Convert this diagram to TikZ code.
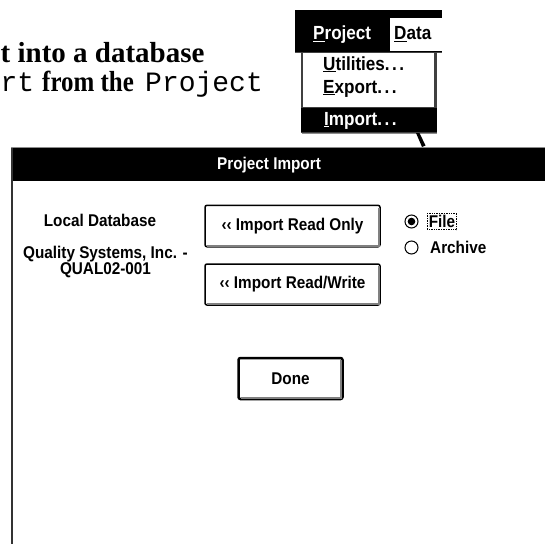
\documentclass[tikz,border=0pt]{standalone}
\usepackage{fontspec}
\setmainfont{Liberation Serif}
\setsansfont{Liberation Sans}
\setmonofont{Liberation Mono}
\newfontfamily\winfont[FakeStretch=0.9]{Liberation Sans}
\newfontfamily\narrowserif[FakeStretch=0.86]{Liberation Serif}
\newcommand\menudots{.\kern2.5pt.\kern2.5pt.}
\usetikzlibrary{calc}

\begin{document}
\begin{tikzpicture}[x=1pt,y=-1pt,
  dlgtext/.style={font=\winfont\bfseries\fontsize{17}{15}\selectfont, inner sep=0pt},
  menutext/.style={font=\winfont\bfseries\fontsize{19}{20}\selectfont, inner sep=0pt, anchor=base west},
  prose/.style={font=\bfseries\fontsize{29}{34}\selectfont, inner sep=0pt},
  code/.style={font=\ttfamily\fontsize{28}{34}\selectfont, inner sep=0pt},
  winbtn/.style={draw=black, line width=1.5pt, rounded corners=2pt, fill=white,
    inner sep=0pt, font=\winfont\bfseries\fontsize{17}{17}\selectfont},
  btnshade/.style={draw=black!50, line width=2pt},
  radio/.style={circle, draw=black, line width=1pt, fill=white, minimum size=13pt, inner sep=0pt}
]
\useasboundingbox (0,0) rectangle (545,544);
\fill[white] (0,0) rectangle (545,544);
\clip (0,0) rectangle (545,544);

% running text above the screenshots
\node[prose, anchor=base west] (line1) at (0.5,62) {t into a database};
\node[code, anchor=base west] (line2a) at (0.5,91) {rt};
\node[prose, font=\narrowserif\bfseries\fontsize{29}{34}\selectfont, anchor=base west] (line2b) at (42,91) {from the};
\node[code, anchor=base west] (line2c) at (145,91) {Project};

% menu bar with the Project menu pulled down
\fill[black] (295,9.5) rectangle (442,52);
\fill[white] (390,18) rectangle (442,51);
\draw[black!70, line width=1pt] (295,52) -- (442,52);
\node[menutext, text=white] (mproj) at (313,39.5) {\underline{P}roject};
\begin{scope}
  \clip (390,18) rectangle (441.5,51);
  \node[menutext] (mdata) at (394,39.5) {\underline{D}ata};
\end{scope}

% drop-down list
\fill[black!75] (301,52) rectangle (437,133);
\fill[white] (302.5,53) rectangle (433.5,107);
\fill[black] (301,108) rectangle (436.5,131.5);
\draw[black!45, line width=1pt] (302,133) -- (437,133);
\node[menutext] (mutil) at (323,70) {\underline{U}tilities\menudots};
\node[menutext] (mexp) at (323,93) {\underline{E}xport\menudots};
\node[menutext, text=white] (mimp) at (324,125) {\underline{I}mport\menudots};

% mouse pointer tail
\fill[black] (416,133) -- (419.5,133) -- (425.5,145.5) -- (422,147) -- cycle;

% dialog window
\fill[white] (12,148) rectangle (545,544);
\fill[black] (12,148) rectangle (545,180.5);
\draw[black!45, line width=0.8pt] (11,147.6) -- (545,147.6);
\draw[black!80, line width=2pt] (12,148) -- (12,544);
\node[dlgtext, text=white] (title) at (269,165) {Project Import};

\node[dlgtext] (local) at (100,220) {Local Database};
\node[dlgtext, align=center, font=\winfont\bfseries\fontsize{17}{14.5}\selectfont] (qsi) at (105.5,262) {Quality Systems, Inc. -\\QUAL02-001};

% push buttons
\node[winbtn, minimum width=175pt, minimum height=41.5pt] (bro) at (292.5,226) {‹‹ Import Read Only};
\draw[btnshade] ($(bro.south west)+(3,-2)$) -- ($(bro.south east)+(-2,-2)$) -- ($(bro.north east)+(-2,3)$);
\node[winbtn, minimum width=175pt, minimum height=41pt] (brw) at (292.5,284.5) {‹‹ Import Read/Write};
\draw[btnshade] ($(brw.south west)+(3,-2)$) -- ($(brw.south east)+(-2,-2)$) -- ($(brw.north east)+(-2,3)$);
\node[winbtn, line width=2.5pt, minimum width=104pt, minimum height=41pt] (done) at (290.5,378.5) {Done};
\draw[btnshade] ($(done.south west)+(3.5,-2.5)$) -- ($(done.south east)+(-2.5,-2.5)$) -- ($(done.north east)+(-2.5,3.5)$);

% radio buttons
\node[radio] (rfile) at (411.5,221.5) {};
\fill[black] (rfile.center) circle (3.8);
\node[radio] (rarch) at (411.5,247.5) {};
\node[dlgtext, anchor=west, draw=black, densely dotted, line width=0.7pt, inner xsep=1.5pt, inner ysep=2pt] (lfile) at (427,221.5) {File};
\node[dlgtext, anchor=west] (larch) at (430,247.5) {Archive};
\end{tikzpicture}
\end{document}
